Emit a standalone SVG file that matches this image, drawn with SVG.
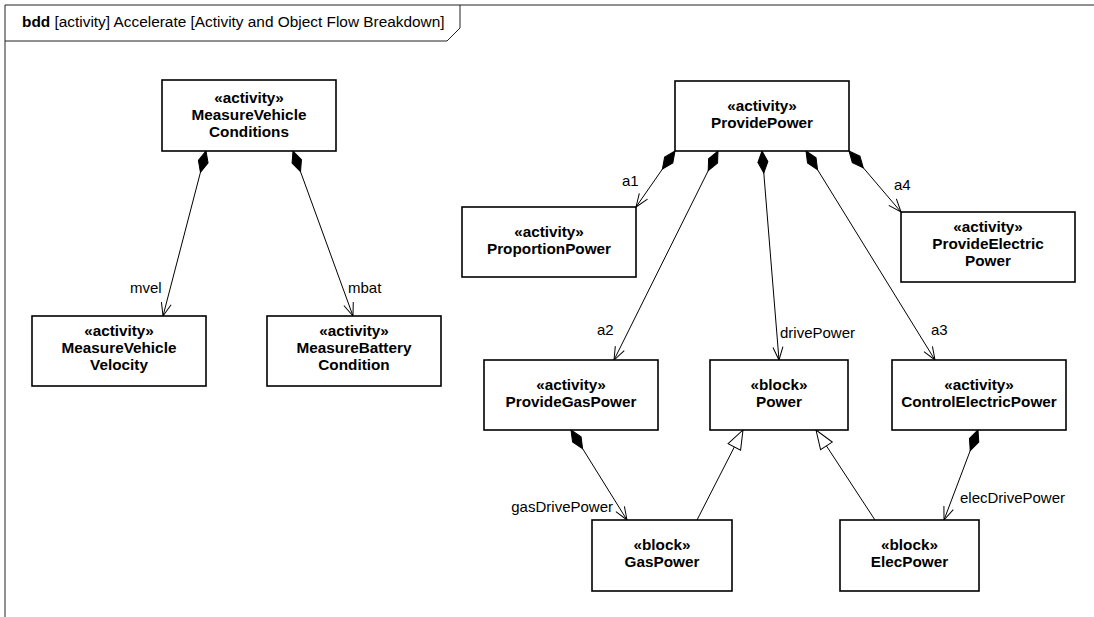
<svg xmlns="http://www.w3.org/2000/svg" width="1094" height="617" viewBox="0 0 1094 617">
<style>
.box{fill:#fff;stroke:#000;stroke-width:1.6}
.nt{font-family:"Liberation Sans",Arial,sans-serif;font-size:15.3px;font-weight:bold;text-anchor:middle;fill:#000}
.lbl{font-family:"Liberation Sans",Arial,sans-serif;font-size:15px;fill:#000}
.hdr{font-family:"Liberation Sans",Arial,sans-serif;font-size:15.4px;fill:#000}
.edge{fill:none;stroke:#000;stroke-width:1}
.frame{fill:none;stroke:#222;stroke-width:1}
</style>
<defs>
<marker id="diamond" markerUnits="userSpaceOnUse" markerWidth="24" markerHeight="14" viewBox="-1 -7 24 14" refX="0" refY="0" orient="auto">
<path d="M0,0 L11,-5 L22,0 L11,5 Z" fill="#000" stroke="#000" stroke-width="1"/>
</marker>
<marker id="open" markerUnits="userSpaceOnUse" markerWidth="16" markerHeight="14" viewBox="-15 -7 16 14" refX="0" refY="0" orient="auto">
<path d="M-13,-5 L0,0 L-13,5" fill="none" stroke="#000" stroke-width="1"/>
</marker>
<marker id="tri" markerUnits="userSpaceOnUse" markerWidth="22" markerHeight="18" viewBox="-21 -9 22 18" refX="0" refY="0" orient="auto">
<path d="M-19,-7 L0,0 L-19,7 Z" fill="#fff" stroke="#000" stroke-width="1"/>
</marker>
</defs>
<rect x="0" y="0" width="1094" height="617" fill="#fff"/>
<g id="frame">
<path class="frame" d="M5,620 L5,5 L1100,5"/>
<path class="frame" d="M5,41 L447,41 L460,28 L460,5"/>
<text x="22" y="27" class="hdr"><tspan font-weight="bold">bdd</tspan> [activity] Accelerate [Activity and Object Flow Breakdown]</text>
</g>
<g id="connectors">
<line class="edge" x1="206" y1="151" x2="163" y2="316" marker-start="url(#diamond)" marker-end="url(#open)"/>
<text class="lbl" x="130" y="293">mvel</text>
<line class="edge" x1="293" y1="151" x2="353" y2="316" marker-start="url(#diamond)" marker-end="url(#open)"/>
<text class="lbl" x="348" y="293">mbat</text>
<line class="edge" x1="675" y1="151" x2="636" y2="207" marker-start="url(#diamond)" marker-end="url(#open)"/>
<text class="lbl" x="622" y="186">a1</text>
<line class="edge" x1="718" y1="151" x2="614" y2="360" marker-start="url(#diamond)" marker-end="url(#open)"/>
<text class="lbl" x="597" y="335">a2</text>
<line class="edge" x1="762" y1="151" x2="779" y2="360" marker-start="url(#diamond)" marker-end="url(#open)"/>
<text class="lbl" x="780" y="338">drivePower</text>
<line class="edge" x1="806" y1="151" x2="935" y2="360" marker-start="url(#diamond)" marker-end="url(#open)"/>
<text class="lbl" x="931" y="335">a3</text>
<line class="edge" x1="849" y1="151" x2="901" y2="212" marker-start="url(#diamond)" marker-end="url(#open)"/>
<text class="lbl" x="894" y="190">a4</text>
<line class="edge" x1="571" y1="430" x2="627" y2="520" marker-start="url(#diamond)" marker-end="url(#open)"/>
<text class="lbl" x="613" y="512" text-anchor="end">gasDrivePower</text>
<line class="edge" x1="978" y1="430" x2="944" y2="520" marker-start="url(#diamond)" marker-end="url(#open)"/>
<text class="lbl" x="960" y="503">elecDrivePower</text>
<line class="edge" x1="697" y1="520" x2="743" y2="430" marker-end="url(#tri)"/>
<line class="edge" x1="875" y1="520" x2="816" y2="430" marker-end="url(#tri)"/>
</g>
<g id="MeasureVehicleConditions">
<rect class="box" x="162" y="80" width="174" height="71"/>
<text class="nt" x="249" y="103">«activity»</text>
<text class="nt" x="249" y="120">MeasureVehicle</text>
<text class="nt" x="249" y="137">Conditions</text>
</g>
<g id="ProvidePower">
<rect class="box" x="675" y="81" width="174" height="70"/>
<text class="nt" x="762" y="111">«activity»</text>
<text class="nt" x="762" y="128">ProvidePower</text>
</g>
<g id="ProportionPower">
<rect class="box" x="462" y="207" width="174" height="70"/>
<text class="nt" x="549" y="237">«activity»</text>
<text class="nt" x="549" y="254">ProportionPower</text>
</g>
<g id="ProvideElectricPower">
<rect class="box" x="901" y="212" width="174" height="70"/>
<text class="nt" x="988" y="232">«activity»</text>
<text class="nt" x="988" y="249">ProvideElectric</text>
<text class="nt" x="988" y="266">Power</text>
</g>
<g id="MeasureVehicleVelocity">
<rect class="box" x="32" y="316" width="174" height="70"/>
<text class="nt" x="119" y="336">«activity»</text>
<text class="nt" x="119" y="353">MeasureVehicle</text>
<text class="nt" x="119" y="370">Velocity</text>
</g>
<g id="MeasureBatteryCondition">
<rect class="box" x="267" y="316" width="174" height="70"/>
<text class="nt" x="354" y="336">«activity»</text>
<text class="nt" x="354" y="353">MeasureBattery</text>
<text class="nt" x="354" y="370">Condition</text>
</g>
<g id="ProvideGasPower">
<rect class="box" x="484" y="360" width="174" height="70"/>
<text class="nt" x="571" y="390">«activity»</text>
<text class="nt" x="571" y="407">ProvideGasPower</text>
</g>
<g id="Power">
<rect class="box" x="710" y="360" width="138" height="70"/>
<text class="nt" x="779" y="390">«block»</text>
<text class="nt" x="779" y="407">Power</text>
</g>
<g id="ControlElectricPower">
<rect class="box" x="892" y="360" width="174" height="70"/>
<text class="nt" x="979" y="390">«activity»</text>
<text class="nt" x="979" y="407">ControlElectricPower</text>
</g>
<g id="GasPower">
<rect class="box" x="592" y="520" width="140" height="71"/>
<text class="nt" x="662" y="550">«block»</text>
<text class="nt" x="662" y="567">GasPower</text>
</g>
<g id="ElecPower">
<rect class="box" x="840" y="520" width="139" height="71"/>
<text class="nt" x="909.5" y="550">«block»</text>
<text class="nt" x="909.5" y="567">ElecPower</text>
</g>
</svg>
